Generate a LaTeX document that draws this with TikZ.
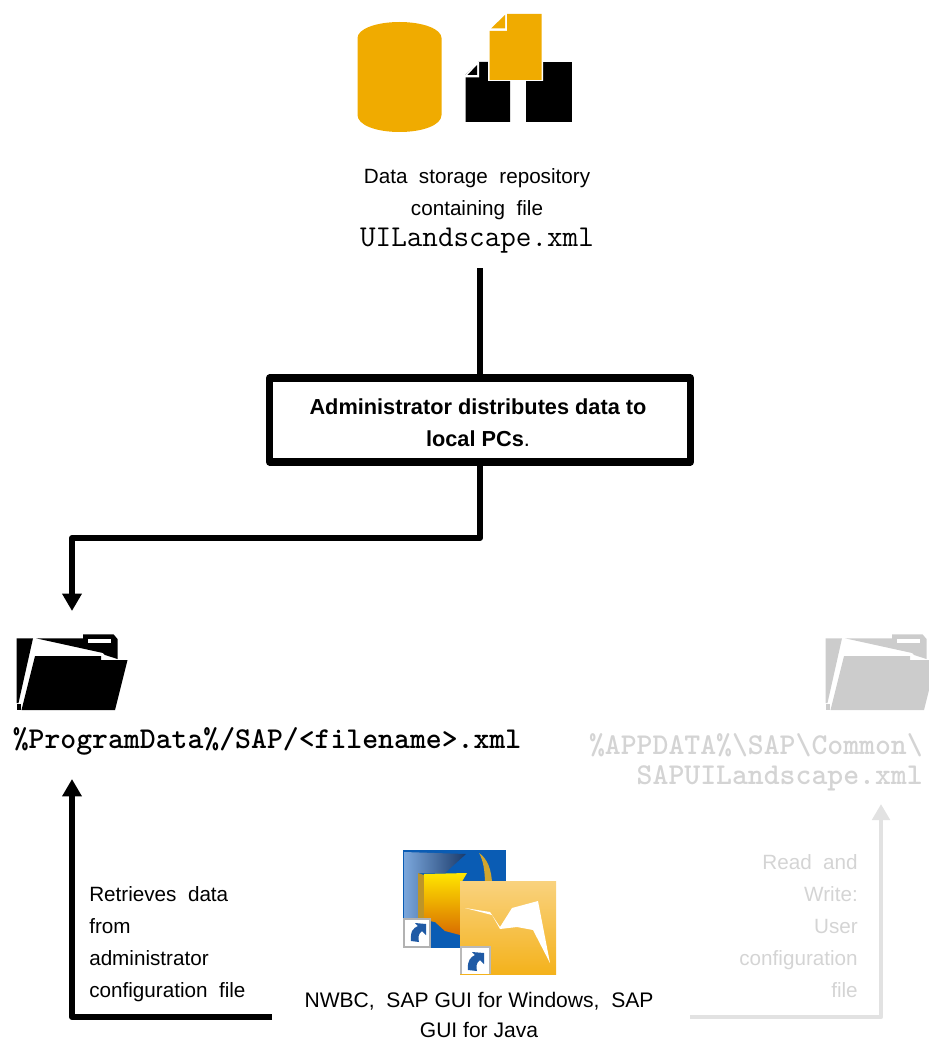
\documentclass[tikz,border=0pt]{standalone}
\usepackage{fontspec}
\setmainfont{Liberation Sans}
\usetikzlibrary{arrows.meta}
\definecolor{sapgold}{HTML}{F0AB00}
\definecolor{fadetext}{HTML}{D4D4D4}
\definecolor{fadeline}{HTML}{E2E2E2}
\definecolor{fadefolder}{HTML}{CCCCCC}
\definecolor{iconblue}{HTML}{0A5CB4}
\definecolor{arrowblue}{HTML}{1F5AA5}
\definecolor{panellight}{HTML}{7BA7DC}
\definecolor{panelnavy}{HTML}{1A3A6A}
\definecolor{squaretop}{HTML}{F9D27E}
\definecolor{squarebottom}{HTML}{F4B21C}
\newcommand{\folderglyph}[1]{%
  \fill[#1] (16.7,638.3) -- (33,638.3) -- (18.5,703) -- (16.7,703) -- cycle;
  \fill[#1] (36,638.3) -- (83,638.3) -- (83,634.3) -- (113.5,634.3) -- (117.5,639) -- (117.5,659) -- (105,655) -- (103,653) -- cycle;
  \fill[#1] (35,656) -- (101,656) -- (101,660) -- (127.5,660) -- (115,710) -- (21.5,710) -- cycle;
  \fill[#1] (16.7,703.5) -- (20.5,703.5) -- (20.5,710) -- (16.7,710) -- cycle;
  \fill[white] (87.5,638.5) rectangle (111,642.5);
}
\tikzset{
  x=0.75pt,y=-0.75pt,
  caption/.style={align=center,font=\fontsize{15.5}{24}\selectfont,inner sep=0pt},
  pathcode/.style={align=center,font=\ttfamily\bfseries\fontsize{22.7}{23}\selectfont,inner sep=0pt},
  lefttext/.style={align=left,anchor=north west,font=\fontsize{15.5}{24}\selectfont,inner sep=0pt},
  flow/.style={line width=4.4pt,black,line join=round},
  flowtip/.style={flow,-{Triangle[length=13pt,width=14pt]}},
  fadeflow/.style={line width=3.4pt,fadeline,line join=round,-{Triangle[length=12pt,width=13pt]}},
}
\begin{document}
\begin{tikzpicture}
\useasboundingbox (0,0) rectangle (928,1041);
% database
\fill[sapgold] (357.5,38) .. controls (357.5,29) and (376,22) .. (399.5,22) .. controls (423,22) and (441.5,29) .. (441.5,38) -- (441.5,115) .. controls (441.5,125) and (423,132) .. (399.5,132) .. controls (376,132) and (357.5,125) .. (357.5,115) -- cycle;
% black files
\fill[black] (478,62) -- (510,62) -- (510,122) -- (465.5,122) -- (465.5,75) -- cycle;
\fill[black] (526,62) rectangle (572,122);
\fill[white] (465,75.5) -- (465,77.5) -- (479,77.5) -- (479,62) -- (477,62) -- cycle;
\fill[black] (467.5,75) -- (477,65) -- (477,75) -- cycle;
% gold file
\fill[white] (488,81) -- (488,29) -- (506,12.5) -- (543,12.5) -- (543,81) -- cycle;
\fill[sapgold] (489.5,31) -- (507,31) -- (507,14) -- (541.5,14) -- (541.5,80) -- (489.5,80) -- cycle;
\fill[sapgold] (491,28.5) -- (505,15) -- (505,28.5) -- cycle;
\node[caption] (repo) at (477,211) {Data\ \ storage\ \ repository\\containing\ \ file\\[-1pt]{\ttfamily\fontsize{22.7}{24}\selectfont UILandscape.xml}};
\node[draw,line width=5.4pt,line join=round,minimum width=315.5pt,minimum height=63pt,inner sep=0pt,outer sep=0pt] (admin) at (480,420) {};
\coordinate (repobottom) at (admin.north |- 0,268);
\node[inner sep=0pt,align=center,font=\bfseries\fontsize{16.3}{24}\selectfont] (admintext) at (478,423) {Administrator distributes data to\\local PCs{\mdseries .}};
\coordinate (progtop) at (72,611);
\coordinate (progbottom) at (72,779);
\coordinate (appsleft) at (272,1017);
\coordinate (appsright) at (690,1017);
\coordinate (apptop) at (881,804);
\draw[flow] (repobottom) -- (admin.north);
\draw[flowtip] (admin.south) |- (progtop |- 0,538) -- (progtop);
% folders
\folderglyph{black}
\begin{scope}[xshift=606.75pt]
\folderglyph{fadefolder}
\end{scope}
\node[pathcode] (progpath) at (267,741) {\%ProgramData\%/SAP/<filename>.xml};
\node[pathcode,text=fadetext,anchor=north east,align=right] (apppath) at (923,733) {\%APPDATA\%\textbackslash SAP\textbackslash Common\textbackslash\\SAPUILandscape.xml};
\draw[flowtip] (appsleft) -- (progbottom |- appsleft) -- (progbottom);
\draw[fadeflow] (appsright) -| (apptop);
\node[lefttext] (retr) at (89,886) {Retrieves\ \ data\\from\\administrator\\configuration\ \ file};
\node[caption,text=fadetext,anchor=north east,align=right] (rw) at (858,854) {Read\ \ and\\Write:\\User\\configuration\\file};
% NWBC icon
\fill[iconblue] (403,850) rectangle (506,948);
\shade[left color=panellight,right color=panelnavy] (404,852) -- (466,854) -- (445,873) -- (418,873) -- (418,918) -- (404,918) -- cycle;
\fill[brown!70!yellow!90!black] (418,873) -- (424,875) -- (424,920) -- (418,918) -- cycle;
\shade[top color=yellow!80!orange,bottom color=orange!85!black] (424,874) -- (467,873) -- (460,885) -- (460,935) -- (445,931) -- (435,922) -- (424,920) -- cycle;
\fill[brown!70!yellow] (479,853) .. controls (487,858) and (492,870) .. (492,885) -- (485,885) .. controls (485,870) and (483,860) .. (479,853) -- cycle;
\fill[gray!60] (403,918) rectangle (431,948);
\fill[white] (405,920) rectangle (429,946);
\fill[arrowblue] (411,941) .. controls (410,930) and (414,928) .. (418,926) -- (415,923) -- (426,924) -- (426,935) -- (422,931) .. controls (418,934) and (418,938) .. (419,942) -- cycle;
% second icon
\shade[top color=squaretop,bottom color=squarebottom] (460,881) rectangle (556,974);
\fill[white] (465,908) -- (490,912) -- (500,927) -- (512,908) -- (538,901) -- (550,963) -- (533,930) -- (517,927) -- (500,929) -- (492,915) -- cycle;
\fill[gray!55] (460,946) rectangle (491,974);
\fill[white] (462,948) rectangle (489,974);
\fill[arrowblue] (468,970) .. controls (467,960) and (471,957) .. (475,955) -- (472,952) -- (484,953) -- (484,964) -- (480,960) .. controls (476,963) and (476,967) .. (477,971) -- cycle;
\node[caption,font=\fontsize{15.8}{22.5}\selectfont] (apps) at (479,1014.5) {NWBC,\ \ SAP\ GUI\ for\ Windows,\ \ SAP\\GUI\ for\ Java};
\end{tikzpicture}
\end{document}
